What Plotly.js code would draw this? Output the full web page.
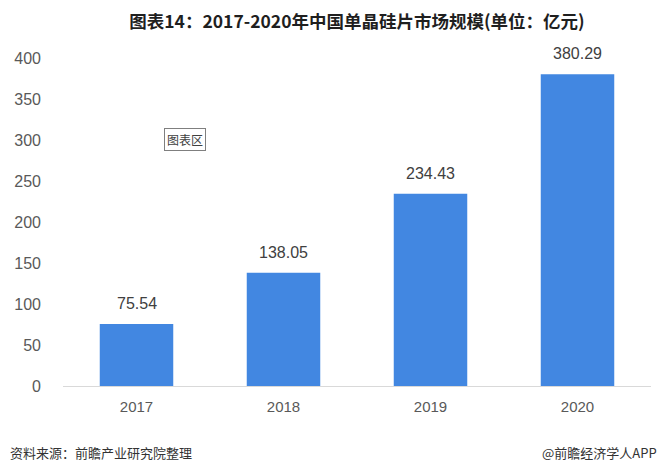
<!DOCTYPE html>
<html>
<head>
<meta charset="utf-8">
<script src="https://cdn.plot.ly/plotly-3.0.1.min.js"></script>
<style>
html,body{margin:0;padding:0;background:#fff;}
#chart{width:660px;height:472px;}
</style>
</head>
<body>
<div id="chart"></div>
<script>
const years = ['2017', '2018', '2019', '2020'];
const marketSize = [75.54, 138.05, 234.43, 380.29];
const valueLabels = ['75.54', '138.05', '234.43', '380.29'];
const yTicks = [0, 50, 100, 150, 200, 250, 300, 350, 400];

const trace = {
  type: 'bar',
  x: years,
  y: marketSize,
  marker: {color: '#4287E1'},
  hoverinfo: 'none'
};

const valueAnnotations = years.map((yr, i) => ({
  x: i, y: marketSize[i], xref: 'x', yref: 'y',
  text: valueLabels[i], showarrow: false,
  xanchor: 'center', yanchor: 'bottom', yshift: 10,
  font: {family: 'Liberation Sans, Arial, sans-serif', size: 16, color: '#404040'}
}));

const layout = {
  width: 660,
  height: 472,
  margin: {l: 63, r: 9, t: 58, b: 86},
  paper_bgcolor: '#ffffff',
  plot_bgcolor: '#ffffff',
  bargap: 0.5,
  showlegend: false,
  font: {family: 'Liberation Sans, Arial, sans-serif'},
  title: {
    text: '图表14：2017-2020年中国单晶硅片市场规模(单位：亿元)',
    font: {family: 'Noto Sans CJK SC, sans-serif', size: 17.5, color: '#1f1f1f', weight: 'bold'},
    x: 0.5, xanchor: 'center', xref: 'paper',
    y: 0.953, yanchor: 'middle', yref: 'container'
  },
  xaxis: {
    type: 'category',
    range: [-0.5, years.length - 0.5],
    showgrid: false,
    showline: true,
    linecolor: '#d9d9d9',
    linewidth: 1,
    ticks: '',
    tickfont: {family: 'Liberation Sans, Arial, sans-serif', size: 15, color: '#595959'},
    ticklabelstandoff: 7
  },
  yaxis: {
    range: [0, 400],
    tickvals: yTicks,
    showgrid: false,
    zeroline: false,
    showline: false,
    ticks: '',
    tickfont: {family: 'Liberation Sans, Arial, sans-serif', size: 16, color: '#595959'},
    ticklabelstandoff: 21
  },
  annotations: valueAnnotations.concat([
    {
      text: '图表区', xref: 'paper', yref: 'paper',
      x: (185 - 63) / 588, y: (386 - 139) / 328,
      xanchor: 'center', yanchor: 'middle', showarrow: false,
      font: {family: 'Noto Sans CJK SC, sans-serif', size: 12, color: '#404040'},
      bordercolor: '#7f7f7f', borderwidth: 1, borderpad: 2, bgcolor: '#ffffff'
    },
    {
      text: '资料来源：前瞻产业研究院整理', xref: 'paper', yref: 'paper',
      x: -55 / 588, y: -(452 - 386) / 328,
      xanchor: 'left', yanchor: 'middle', showarrow: false,
      font: {family: 'Noto Sans CJK SC, sans-serif', size: 13, color: '#333333'}
    },
    {
      text: '@前瞻经济学人APP', xref: 'paper', yref: 'paper',
      x: (659 - 63) / 588, y: -(452 - 386) / 328,
      xanchor: 'right', yanchor: 'middle', showarrow: false,
      font: {family: 'Noto Sans CJK SC, sans-serif', size: 13, color: '#333333'}
    }
  ])
};

Plotly.newPlot('chart', [trace], layout, {displayModeBar: false, staticPlot: true});
</script>
</body>
</html>
